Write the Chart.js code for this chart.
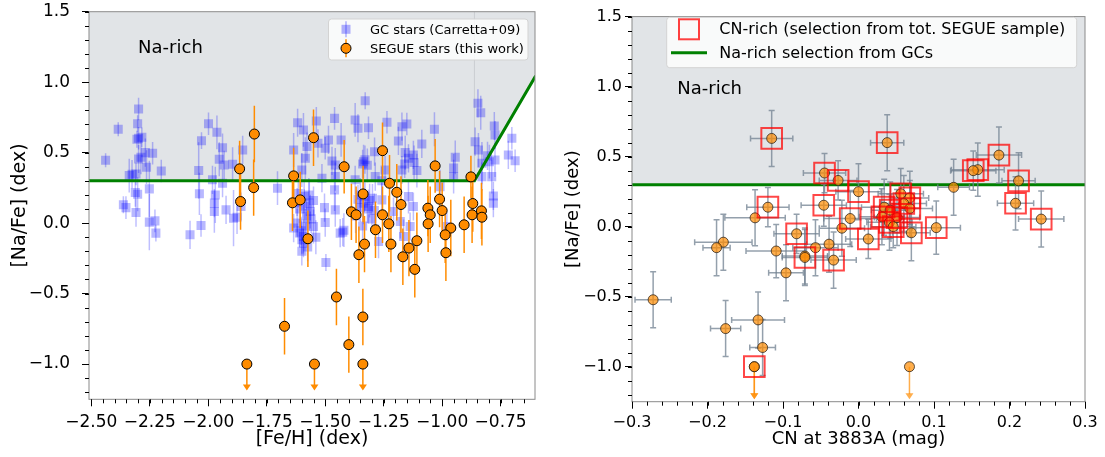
<!DOCTYPE html>
<html>
<head>
<meta charset="utf-8">
<script src="https://cdn.jsdelivr.net/npm/chart.js@4.4.1/dist/chart.umd.min.js"></script>
<style>
  body { margin: 0; background: #fff; }
  #wrap { position: relative; width: 1105px; height: 457px; overflow: hidden; }
  #left { position: absolute; left: 0; top: 0; }
  #right { position: absolute; left: 555px; top: 0; }
</style>
</head>
<body>
<div id="wrap">
  <canvas id="left" width="560" height="457"></canvas>
  <canvas id="right" width="550" height="457"></canvas>
</div>
<script>
// ---- left panel: GC stars (Carretta+09) ----
const gcFeH = [
  -2.298, -2.302, -2.385, -2.298, -2.305, -2.284, -2.439, -2.288, -2.269, -2.238,
  -2.298, -2.264, -2.201, -2.326, -2.309, -2.338, -2.252, -2.312, -2.302, -2.363,
  -2.352, -2.309, -2.252, -2.228, -2.224, -1.999, -1.963, -2.029, -1.939, -1.953,
  -1.932, -1.896, -2.041, -1.982, -1.939, -2.038, -1.970, -1.974, -1.924, -1.974,
  -2.031, -2.078, -1.892, -1.329, -1.618, -1.593, -1.538, -1.460, -1.372, -1.315,
  -1.360, -1.853, -1.635, -1.578, -1.531, -1.500, -1.486, -1.432, -1.289, -1.336,
  -1.340, -1.471, -1.457, -1.585, -1.600, -1.514, -1.457, -1.372, -1.704, -1.460,
  -1.286, -1.568, -1.564, -1.503, -1.457, -1.500, -1.550, -1.425, -1.603, -1.593,
  -1.336, -1.315, -1.298, -1.258, -1.860, -1.877, -1.620, -1.590, -1.610, -1.580,
  -1.620, -1.635, -1.593, -1.600, -1.600, -1.497, -1.436, -1.420, -1.272, -1.350,
  -1.320, -1.370, -1.300, -1.340, -0.847, -0.835, -1.236, -1.172, -1.151, -1.033,
  -0.777, -1.187, -1.087, -1.158, -1.144, -1.123, -0.944, -0.859, -0.845, -0.774,
  -0.702, -0.717, -0.688, -0.774, -0.830, -0.788, -0.830, -0.951, -1.172, -1.108,
  -1.244, -1.009, -0.781, -1.144, -1.123, -1.208, -1.179, -1.137, -1.165, -0.980,
  -0.806, -0.798, -0.781, -0.951, -1.258, -1.615, -1.570, -1.550, -1.590, -1.560,
  -1.585, -1.610, -1.575, -1.540, -1.330, -1.310, -1.350, -1.290, -1.360, -1.330,
  -1.320, -1.160, -1.120
];
const gcNaFe = [
  0.810, 0.705, 0.666, 0.602, 0.595, 0.609, 0.446, 0.467, 0.500, 0.496,
  0.455, 0.397, 0.370, 0.347, 0.349, 0.337, 0.243, 0.217, 0.205, 0.130,
  0.110, 0.075, 0.007, 0.016, -0.071, 0.705, 0.644, 0.585, 0.535, 0.453,
  0.413, 0.418, 0.373, 0.307, 0.283, 0.208, 0.200, 0.142, 0.094, 0.082,
  -0.017, -0.083, 0.035, 0.868, 0.712, 0.661, 0.724, 0.743, 0.732, 0.677,
  0.673, 0.519, 0.519, 0.543, 0.566, 0.531, 0.590, 0.590, 0.507, 0.436,
  0.420, 0.441, 0.413, 0.460, 0.377, 0.319, 0.330, 0.307, 0.248, 0.236,
  0.330, 0.142, 0.082, 0.110, 0.094, 0.004, -0.024, -0.064, -0.055, -0.142,
  0.142, 0.118, 0.177, 0.165, 0.118, 0.042, 0.150, 0.190, 0.100, 0.050,
  0.000, -0.035, -0.095, -0.200, -0.118, -0.279, -0.071, -0.050, -0.130, 0.200,
  0.100, 0.050, 0.030, -0.020, 0.850, 0.783, 0.715, 0.684, 0.703, 0.666,
  0.689, 0.583, 0.562, 0.500, 0.460, 0.484, 0.467, 0.578, 0.519, 0.625,
  0.602, 0.484, 0.443, 0.448, 0.425, 0.330, 0.330, 0.330, 0.377, 0.373,
  0.377, 0.259, 0.193, 0.188, 0.118, 0.082, 0.011, -0.024, -0.095, -0.024,
  0.477, 0.436, 0.142, 0.390, 0.300, 0.210, 0.200, 0.160, 0.120, 0.030,
  -0.020, -0.070, -0.170, -0.100, 0.190, 0.160, 0.110, 0.090, 0.170, 0.450,
  0.410, 0.420, 0.430
];
const gcErr = [
  0.08, 0.06, 0.05, 0.08, 0.06, 0.07, 0.05, 0.12, 0.10, 0.08,
  0.10, 0.12, 0.08, 0.10, 0.08, 0.12, 0.20, 0.10, 0.12, 0.06,
  0.08, 0.10, 0.20, 0.08, 0.06, 0.08, 0.12, 0.06, 0.10, 0.12,
  0.10, 0.12, 0.20, 0.10, 0.10, 0.15, 0.20, 0.10, 0.10, 0.15,
  0.08, 0.10, 0.20, 0.06, 0.10, 0.12, 0.10, 0.08, 0.12, 0.08,
  0.10, 0.10, 0.12, 0.10, 0.10, 0.08, 0.10, 0.12, 0.10, 0.12,
  0.10, 0.10, 0.12, 0.15, 0.12, 0.10, 0.10, 0.10, 0.12, 0.15,
  0.10, 0.15, 0.12, 0.10, 0.12, 0.10, 0.12, 0.10, 0.10, 0.10,
  0.15, 0.12, 0.10, 0.12, 0.10, 0.12, 0.10, 0.12, 0.10, 0.12,
  0.10, 0.10, 0.12, 0.10, 0.10, 0.06, 0.10, 0.12, 0.12, 0.12,
  0.10, 0.12, 0.10, 0.10, 0.10, 0.12, 0.08, 0.10, 0.08, 0.12,
  0.10, 0.10, 0.10, 0.12, 0.10, 0.10, 0.12, 0.10, 0.12, 0.10,
  0.08, 0.10, 0.08, 0.12, 0.15, 0.12, 0.10, 0.12, 0.10, 0.12,
  0.10, 0.12, 0.10, 0.12, 0.10, 0.10, 0.12, 0.10, 0.12, 0.10,
  0.10, 0.12, 0.10, 0.10, 0.10, 0.10, 0.12, 0.10, 0.12, 0.10,
  0.12, 0.10, 0.10, 0.12, 0.10, 0.12, 0.10, 0.12, 0.10, 0.10,
  0.12, 0.10, 0.12
];

// ---- left panel: SEGUE stars (this work) ----
const segFeH = [
  -1.866, -1.862, -1.803, -1.806, -1.635, -1.640, -1.607, -1.550, -1.419, -1.388,
  -1.368, -1.338, -1.255, -1.255, -1.225, -1.194, -1.176, -1.228, -1.285, -1.030,
  -1.061, -1.051, -1.011, -1.000, -1.060, -0.963, -0.906, -0.877, -0.869, -0.872,
  -0.832, -0.830, -1.574, -1.332, -1.356, -1.219, -1.142, -1.168, -1.108, -1.117,
  -0.987, -0.984, -1.452, -1.674, -1.399, -1.339, -1.835, -1.546, -1.339
];
const segNaFe = [
  0.385, 0.153, 0.632, 0.252, 0.335, 0.144, 0.165, 0.606, 0.400, 0.080,
  0.059, 0.207, 0.514, 0.059, 0.283, 0.219, 0.132, -0.005, -0.047, 0.406,
  0.106, 0.059, 0.170, 0.089, -0.005, -0.035, -0.012, 0.328, 0.139, 0.059,
  0.087, 0.042, -0.111, -0.149, -0.224, -0.149, -0.177, -0.239, -0.125, -0.328,
  -0.083, -0.210, -0.524, -0.732, -0.862, -0.666, -1.000, -1.000, -1.000
];
const segErr = [
  0.20, 0.20, 0.20, 0.20, 0.20, 0.20, 0.20, 0.20, 0.19, 0.20,
  0.20, 0.20, 0.20, 0.20, 0.20, 0.20, 0.20, 0.20, 0.20, 0.19,
  0.20, 0.20, 0.20, 0.20, 0.20, 0.20, 0.20, 0.15, 0.20, 0.20,
  0.20, 0.20, 0.20, 0.20, 0.20, 0.20, 0.20, 0.20, 0.20, 0.20,
  0.20, 0.20, 0.20, 0.20, 0.20, 0.20, 0, 0, 0
];
const segUpper = [
  0, 0, 0, 0, 0, 0, 0, 0, 0, 0, 0, 0, 0, 0, 0, 0, 0, 0, 0, 0,
  0, 0, 0, 0, 0, 0, 0, 0, 0, 0, 0, 0, 0, 0, 0, 0, 0, 0, 0, 0,
  0, 0, 0, 0, 0, 0, 1, 1, 1
];

// Na-rich selection boundary from GCs
const naLineFeH = [-2.51, -0.862, -0.60];
const naLineNa = [0.30, 0.30, 1.045];

// ---- right panel: CN at 3883A vs [Na/Fe] ----
const cnIndex = [
  -0.115, 0.038, 0.186, 0.158, 0.152, -0.045, -0.027, 0.212, 0.126, 0.000,
  0.208, -0.120, -0.046, -0.137, -0.011, -0.022, 0.013, 0.242, 0.103, 0.070,
  -0.179, -0.188, -0.082, -0.109, -0.057, -0.039, -0.071, -0.071, -0.033, -0.096,
  -0.272, -0.176, -0.133, -0.127, -0.138, -0.138, 0.0675,
  0.056, 0.068, 0.060, 0.034, 0.068, 0.042, 0.031, 0.051, 0.041, 0.046
];
const cnNaFe = [
  0.630, 0.600, 0.511, 0.407, 0.400, 0.383, 0.330, 0.327, 0.281, 0.250,
  0.167, 0.139, 0.153, 0.063, 0.058, -0.011, -0.088, 0.054, -0.007, -0.044,
  -0.111, -0.150, -0.051, -0.174, -0.150, -0.125, -0.210, -0.220, -0.239, -0.330,
  -0.522, -0.728, -0.666, -0.863, -1.000, -1.000, -1.000,
  0.235, 0.205, 0.165, 0.139, 0.130, 0.118, 0.070, 0.065, 0.031, 0.000
];
const cnXErr = [
  0.028, 0.022, 0.030, 0.035, 0.030, 0.028, 0.025, 0.022, 0.021, 0.030,
  0.024, 0.028, 0.030, 0.040, 0.035, 0.030, 0.030, 0.030, 0.032, 0.025,
  0.038, 0.018, 0.030, 0.040, 0.030, 0.030, 0.030, 0.030, 0.030, 0.023,
  0.024, 0.020, 0.035, 0.017, 0, 0, 0,
  0.030, 0.025, 0.030, 0.030, 0.030, 0.025, 0.030, 0.030, 0.030, 0.030
];
const cnYErr = [
  0.20, 0.20, 0.20, 0.19, 0.14, 0.14, 0.14, 0.20, 0.20, 0.20,
  0.19, 0.14, 0.15, 0.20, 0.20, 0.20, 0.14, 0.20, 0.19, 0.20,
  0.20, 0.20, 0.14, 0.19, 0.20, 0.20, 0.20, 0.20, 0.20, 0.20,
  0.20, 0.20, 0.20, 0.20, 0, 0, 0,
  0.18, 0.19, 0.20, 0.20, 0.20, 0.20, 0.20, 0.20, 0.20, 0.15
];
const cnUpper = [
  0, 0, 0, 0, 0, 0, 0, 0, 0, 0, 0, 0, 0, 0, 0, 0, 0, 0, 0, 0,
  0, 0, 0, 0, 0, 0, 0, 0, 0, 0, 0, 0, 0, 0, 1, 1, 1,
  0, 0, 0, 0, 0, 0, 0, 0, 0, 0
];
// 1 = CN-rich (selection from tot. SEGUE sample)
const cnRich = [
  1, 1, 1, 1, 1, 1, 1, 1, 0, 1, 1, 1, 1, 0, 1, 0, 1, 1, 1, 1,
  0, 0, 1, 0, 0, 0, 0, 1, 1, 0, 0, 0, 0, 0, 1, 0, 0,
  1, 1, 1, 1, 1, 1, 1, 1, 1, 1
];
const naRightX = [-0.3, 0.3];
const naRightY = [0.30, 0.30];

// ticks
const leftXTicks = [-2.5, -2.25, -2.0, -1.75, -1.5, -1.25, -1.0, -0.75];
const leftYTicks = [-1.0, -0.5, 0.0, 0.5, 1.0, 1.5];
const rightXTicks = [-0.3, -0.2, -0.1, 0.0, 0.1, 0.2, 0.3];
const rightYTicks = [-1.0, -0.5, 0.0, 0.5, 1.0, 1.5];

const FONT = "'DejaVu Sans', sans-serif";
const SHADE = '#e1e4e7';
const fmt = (d) => (v) => (v < 0 ? '\u2212' : '') + Math.abs(v).toFixed(d);

// error bars drawn right before their own dataset
const errorBars = {
  id: 'errorBars',
  beforeDatasetDraw(chart, args) {
    const ds = chart.data.datasets[args.index];
    const e = ds.errStyle;
    if (!e) return;
    const { ctx, chartArea: a, scales: { x, y } } = chart;
    ctx.save();
    ctx.beginPath();
    ctx.rect(a.left, a.top, a.right - a.left, a.bottom - a.top);
    ctx.clip();
    ctx.lineWidth = e.width;
    for (const p of ds.data) {
      const px = x.getPixelForValue(p.x);
      const py = y.getPixelForValue(p.y);
      if (p.up) {
        const tip = y.getPixelForValue(p.y - e.arrow);
        ctx.strokeStyle = e.arrowColor;
        ctx.fillStyle = e.arrowColor;
        ctx.beginPath();
        ctx.moveTo(px, py);
        ctx.lineTo(px, tip - 4);
        ctx.stroke();
        ctx.beginPath();
        ctx.moveTo(px - 4, tip - 5);
        ctx.lineTo(px + 4, tip - 5);
        ctx.lineTo(px, tip + 1);
        ctx.closePath();
        ctx.fill();
        continue;
      }
      ctx.strokeStyle = e.color;
      ctx.beginPath();
      if (p.ye) {
        const y0 = y.getPixelForValue(p.y - p.ye), y1 = y.getPixelForValue(p.y + p.ye);
        ctx.moveTo(px, y0); ctx.lineTo(px, y1);
        if (e.cap) {
          ctx.moveTo(px - e.cap, y0); ctx.lineTo(px + e.cap, y0);
          ctx.moveTo(px - e.cap, y1); ctx.lineTo(px + e.cap, y1);
        }
      }
      if (p.xe) {
        const x0 = x.getPixelForValue(p.x - p.xe), x1 = x.getPixelForValue(p.x + p.xe);
        ctx.moveTo(x0, py); ctx.lineTo(x1, py);
        if (e.cap) {
          ctx.moveTo(x0, py - e.cap); ctx.lineTo(x0, py + e.cap);
          ctx.moveTo(x1, py - e.cap); ctx.lineTo(x1, py + e.cap);
        }
      }
      ctx.stroke();
    }
    ctx.restore();
  }
};

// frame, minor ticks, "Na-rich" label and legend box
const decor = {
  id: 'decor',
  afterDraw(chart, args, o) {
    const { ctx, chartArea: a, scales: { x, y } } = chart;
    ctx.save();
    ctx.strokeStyle = '#8a8a8a';
    ctx.lineWidth = 1;
    ctx.strokeRect(a.left, a.top, a.right - a.left, a.bottom - a.top);

    ctx.strokeStyle = '#000';
    ctx.beginPath();
    for (let k = Math.ceil(x.min / o.xMinor - 1e-6); k * o.xMinor <= x.max + 1e-9; k++) {
      const px = Math.round(x.getPixelForValue(k * o.xMinor)) + 0.5;
      ctx.moveTo(px, a.bottom); ctx.lineTo(px, a.bottom + 4);
    }
    for (let k = Math.ceil(y.min / o.yMinor - 1e-6); k * o.yMinor <= y.max + 1e-9; k++) {
      const py = Math.round(y.getPixelForValue(k * o.yMinor)) + 0.5;
      ctx.moveTo(a.left, py); ctx.lineTo(a.left - 4, py);
    }
    ctx.stroke();

    ctx.fillStyle = '#000';
    ctx.font = '18px ' + FONT;
    ctx.textBaseline = 'middle';
    ctx.textAlign = 'left';
    ctx.fillText('Na-rich', x.getPixelForValue(o.label[0]), y.getPixelForValue(o.label[1]));

    const L = o.legend;
    ctx.fillStyle = 'rgba(255,255,255,0.8)';
    ctx.strokeStyle = '#d3d3d3';
    ctx.beginPath();
    ctx.roundRect(L.box[0], L.box[1], L.box[2], L.box[3], 3);
    ctx.fill();
    ctx.stroke();
    ctx.font = L.size + 'px ' + FONT;
    for (const it of L.items) {
      const [mx, my] = it.at;
      ctx.save();
      if (it.kind === 'gc') {
        ctx.strokeStyle = 'rgba(0,0,255,0.3)';
        ctx.lineWidth = 1.5;
        ctx.beginPath(); ctx.moveTo(mx, my - 8); ctx.lineTo(mx, my + 8); ctx.stroke();
        ctx.fillStyle = 'rgba(0,0,255,0.3)';
        ctx.fillRect(mx - 4.5, my - 4.5, 9, 9);
      } else if (it.kind === 'seg') {
        ctx.strokeStyle = '#ff8c00';
        ctx.lineWidth = 1.5;
        ctx.beginPath(); ctx.moveTo(mx, my - 9); ctx.lineTo(mx, my + 9); ctx.stroke();
        ctx.fillStyle = '#ff8c00';
        ctx.strokeStyle = '#000';
        ctx.lineWidth = 1;
        ctx.beginPath(); ctx.arc(mx, my, 5, 0, Math.PI * 2); ctx.fill(); ctx.stroke();
      } else if (it.kind === 'cn') {
        ctx.strokeStyle = 'rgba(255,0,0,0.75)';
        ctx.lineWidth = 2;
        ctx.strokeRect(mx - 10, my - 10, 20, 20);
      } else if (it.kind === 'line') {
        ctx.strokeStyle = '#008000';
        ctx.lineWidth = 3;
        ctx.beginPath(); ctx.moveTo(mx - 18, my); ctx.lineTo(mx + 18, my); ctx.stroke();
      }
      ctx.restore();
      ctx.fillStyle = '#000';
      ctx.fillText(it.text, L.textX, my + 1);
    }
    ctx.restore();
  }
};

function axes(xr, yr, xTicks, yTicks, xDec, yDec, tickSize, titleSize, xTitle, yTitleX, ySize, xH, pads) {
  const grid = { display: true, drawOnChartArea: false, tickLength: 7, tickColor: '#000', tickWidth: 1 };
  return {
    x: {
      type: 'linear', min: xr[0], max: xr[1],
      afterBuildTicks: (s) => { s.ticks = xTicks.map((v) => ({ value: v })); },
      afterFit: (s) => { s.height = xH; s.paddingLeft = 0; s.paddingRight = 0; },
      ticks: { callback: fmt(xDec), color: '#000', padding: pads[0], maxRotation: 0, autoSkip: false, font: { family: FONT, size: tickSize } },
      grid, border: { display: false },
      title: { display: true, text: xTitle, color: '#000', font: { family: FONT, size: titleSize }, padding: { top: 0, bottom: 7 } }
    },
    y: {
      type: 'linear', min: yr[0], max: yr[1],
      afterBuildTicks: (s) => { s.ticks = yTicks.map((v) => ({ value: v })); },
      afterFit: (s) => { s.width = ySize; s.paddingTop = 0; s.paddingBottom = 0; },
      ticks: { callback: fmt(yDec), color: '#000', padding: pads[1], autoSkip: false, font: { family: FONT, size: tickSize } },
      grid, border: { display: false },
      title: { display: true, text: '[Na/Fe] (dex)', color: '#000', font: { family: FONT, size: titleSize }, padding: { top: yTitleX, bottom: 0 } }
    }
  };
}

const pts = (xs, ys, f) => xs.map((v, i) => f(v, ys[i], i));

// ---------------- left chart ----------------
new Chart(document.getElementById('left'), {
  type: 'scatter',
  data: {
    datasets: [
      {
        type: 'line', data: pts(naLineFeH, naLineNa, (x, y) => ({ x, y })),
        fill: 'end', backgroundColor: SHADE, borderWidth: 0, pointRadius: 0, order: 10
      },
      {
        type: 'line', data: [{ x: naLineFeH[1], y: naLineNa[1] }, { x: naLineFeH[1], y: 1.5 }],
        borderColor: '#c4c7ca', borderWidth: 0.8, pointRadius: 0, fill: false, order: 9
      },
      {
        data: pts(gcFeH, gcNaFe, (x, y, i) => ({ x, y, ye: gcErr[i] })),
        pointStyle: 'rect', pointRadius: 6.4, borderWidth: 0,
        backgroundColor: 'rgba(0,0,255,0.28)', order: 5,
        errStyle: { color: 'rgba(0,0,255,0.25)', width: 1.5 }
      },
      {
        type: 'line', data: pts(naLineFeH, naLineNa, (x, y) => ({ x, y })),
        borderColor: '#008000', borderWidth: 3, pointRadius: 0, fill: false, order: 3
      },
      {
        data: pts(segFeH, segNaFe, (x, y, i) => ({ x, y, ye: segErr[i], up: segUpper[i] })),
        pointRadius: 5, borderWidth: 1, borderColor: '#000', backgroundColor: '#ff8c00', order: 1,
        errStyle: { color: '#ff8c00', arrowColor: '#ff8c00', width: 1.5, arrow: 0.18 }
      }
    ]
  },
  options: {
    responsive: false, animation: false,
    layout: { padding: { left: 0, right: 25, top: 11.7, bottom: 0 } },
    scales: axes([-2.51, -0.603], [-1.25, 1.5], leftXTicks, leftYTicks, 2, 1, 17, 19, '[Fe/H] (dex)', 9, 89, 57.7, [6, 12]),
    plugins: {
      legend: { display: false }, tooltip: { enabled: false },
      filler: { drawTime: 'beforeDatasetDraw' },
      decor: {
        xMinor: 0.05, yMinor: 0.1, label: [-2.30, 1.24],
        legend: {
          box: [328.5, 19, 199.5, 41], size: 13, textX: 370,
          items: [
            { kind: 'gc', at: [346, 29.3], text: 'GC stars (Carretta+09)' },
            { kind: 'seg', at: [346, 48.3], text: 'SEGUE stars (this work)' }
          ]
        }
      }
    }
  },
  plugins: [errorBars, decor]
});

// ---------------- right chart ----------------
const cnPoints = pts(cnIndex, cnNaFe, (x, y, i) => ({ x, y, xe: cnXErr[i], ye: cnYErr[i], up: cnUpper[i] }));
new Chart(document.getElementById('right'), {
  type: 'scatter',
  data: {
    datasets: [
      {
        type: 'line', data: pts(naRightX, naRightY, (x, y) => ({ x, y })),
        fill: 'end', backgroundColor: SHADE, borderWidth: 0, pointRadius: 0, order: 10
      },
      {
        type: 'line', data: pts(naRightX, naRightY, (x, y) => ({ x, y })),
        borderColor: '#008000', borderWidth: 3, pointRadius: 0, fill: false, order: 8
      },
      {
        data: cnPoints,
        pointRadius: 5, borderWidth: 1, borderColor: 'rgba(40,30,20,0.75)',
        backgroundColor: 'rgba(255,140,0,0.7)', order: 3,
        errStyle: { color: 'rgba(112,128,144,0.75)', arrowColor: 'rgba(255,140,0,0.7)', width: 1.5, cap: 3, arrow: 0.225 }
      },
      {
        data: cnPoints.filter((p, i) => cnRich[i]),
        pointStyle: 'rect', pointRadius: 14.6, borderWidth: 2,
        borderColor: 'rgba(255,0,0,0.72)', backgroundColor: 'rgba(0,0,0,0)', order: 1
      }
    ]
  },
  options: {
    responsive: false, animation: false,
    layout: { padding: { left: 0, right: 20, top: 7.3, bottom: 0 } },
    scales: axes([-0.3, 0.3], [-1.25, 1.5], rightXTicks, rightYTicks, 1, 1, 16, 18, 'CN at 3883A (mag)', 8, 77, 55.3, [5, 3]),
    plugins: {
      legend: { display: false }, tooltip: { enabled: false },
      filler: { drawTime: 'beforeDatasetDraw' },
      decor: {
        xMinor: 0.02, yMinor: 0.1, label: [-0.24, 0.98],
        legend: {
          box: [111.7, 17.3, 410, 50.4], size: 16, textX: 164.3,
          items: [
            { kind: 'cn', at: [134, 29.3], text: 'CN-rich (selection from tot. SEGUE sample)' },
            { kind: 'line', at: [134, 52.7], text: 'Na-rich selection from GCs' }
          ]
        }
      }
    }
  },
  plugins: [errorBars, decor]
});
</script>
</body>
</html>
